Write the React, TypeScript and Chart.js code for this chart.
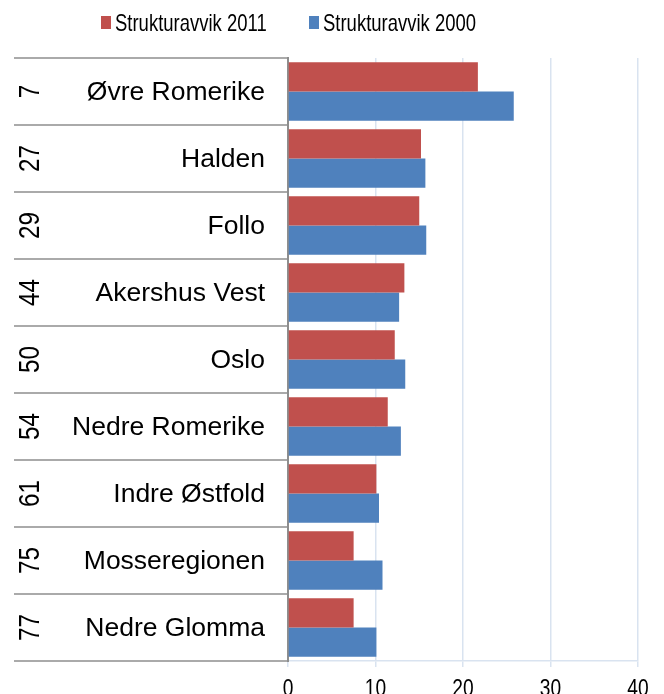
import React, { useEffect, useRef } from 'react';
import { Chart, registerables } from 'chart.js';

Chart.register(...registerables);

const ranks = ['7', '27', '29', '44', '50', '54', '61', '75', '77'];
const regions = [
  'Øvre Romerike',
  'Halden',
  'Follo',
  'Akershus Vest',
  'Oslo',
  'Nedre Romerike',
  'Indre Østfold',
  'Mosseregionen',
  'Nedre Glomma',
];
const series2011 = [21.7, 15.2, 15.0, 13.3, 12.2, 11.4, 10.1, 7.5, 7.5];
const series2000 = [25.8, 15.7, 15.8, 12.7, 13.4, 12.9, 10.4, 10.8, 10.1];
const seriesNames = ['Strukturavvik 2011', 'Strukturavvik 2000'];
const xTicks = [0, 10, 20, 30, 40];

const RED = '#C0504D';
const BLUE = '#4F81BD';
const FONT = "'Liberation Sans', Arial, sans-serif";

function narrowText(ctx: any, text: string, x: number, y: number, size: number, squeeze: number, align: string, baseline: string) {
  ctx.save();
  ctx.translate(x, y);
  ctx.scale(squeeze, 1);
  ctx.font = `${size}px ${FONT}`;
  ctx.textAlign = align;
  ctx.textBaseline = baseline;
  ctx.fillText(text, 0, 0);
  ctx.restore();
}

export default function App() {
  const ref = useRef<HTMLCanvasElement>(null);

  useEffect(() => {
    document.body.style.margin = '0';
    const canvas = ref.current;
    if (!canvas) return;

    const labelPlugin = {
      id: 'catLabels',
      afterDraw(chart: any) {
        const { ctx, chartArea } = chart;
        const y = chart.scales.y;
        const x = chart.scales.x;
        const n = regions.length;
        ctx.save();
        // category separators on the left
        ctx.strokeStyle = '#8e8e8e';
        ctx.lineWidth = 1.5;
        for (let i = 0; i <= n; i++) {
          let py: number;
          if (i === 0) py = y.top;
          else if (i === n) py = y.bottom;
          else py = (y.getPixelForValue(i - 1) + y.getPixelForValue(i)) / 2;
          ctx.beginPath();
          ctx.moveTo(14, py);
          ctx.lineTo(chartArea.left, py);
          ctx.stroke();
        }
        ctx.fillStyle = '#000';
        for (let i = 0; i < n; i++) {
          const cy = y.getPixelForValue(i);
          ctx.font = `26.5px ${FONT}`;
          ctx.textAlign = 'right';
          ctx.textBaseline = 'middle';
          ctx.fillText(regions[i], 265, cy + 1);
          ctx.save();
          ctx.translate(31, cy);
          ctx.rotate(-Math.PI / 2);
          narrowText(ctx, ranks[i], 0, 0, 29, 0.84, 'center', 'middle');
          ctx.restore();
        }
        // x tick labels
        xTicks.forEach((v) => {
          narrowText(ctx, String(v), x.getPixelForValue(v), 696, 24, 0.8, 'center', 'alphabetic');
        });
        // legend
        const items = [
          { x: 101, tx: 115 },
          { x: 309, tx: 323 },
        ];
        chart.data.datasets.forEach((ds: any, k: number) => {
          const it = items[k];
          ctx.fillStyle = ds.backgroundColor;
          ctx.fillRect(it.x, 16, 10, 13);
          ctx.fillStyle = '#000';
          narrowText(ctx, ds.label, it.tx, 30.5, 24, 0.77, 'left', 'alphabetic');
        });
        ctx.restore();
      },
    };

    const chart = new Chart(canvas, {
      type: 'bar',
      data: {
        labels: regions,
        datasets: [
          {
            label: seriesNames[0],
            data: series2011,
            backgroundColor: RED,
            categoryPercentage: 0.87,
            barPercentage: 1.0,
          },
          {
            label: seriesNames[1],
            data: series2000,
            backgroundColor: BLUE,
            categoryPercentage: 0.87,
            barPercentage: 1.0,
          },
        ],
      },
      options: {
        indexAxis: 'y',
        responsive: false,
        animation: false,
        devicePixelRatio: 1,
        layout: { padding: { top: 58, right: 26, left: 0, bottom: 0 } },
        plugins: {
          legend: { display: false },
          tooltip: { enabled: false },
        },
        scales: {
          x: {
            min: xTicks[0],
            max: xTicks[xTicks.length - 1],
            afterBuildTicks: (scale: any) => {
              scale.ticks = xTicks.map((v) => ({ value: v }));
            },
            afterFit: (scale: any) => {
              scale.height = 33;
            },
            ticks: { display: false },
            grid: {
              color: '#d9e3f0',
              lineWidth: 1.5,
              tickLength: 6,
              drawTicks: true,
            },
            border: { color: '#d9e3f0', width: 1.5 },
          },
          y: {
            ticks: { display: false },
            grid: { display: false },
            border: { color: '#8e8e8e', width: 2 },
            afterFit: (scale: any) => {
              scale.width = 288;
            },
          },
        },
      },
      plugins: [labelPlugin],
    });

    return () => chart.destroy();
  }, []);

  return <canvas ref={ref} width={664} height={694} style={{ display: 'block' }} />;
}
